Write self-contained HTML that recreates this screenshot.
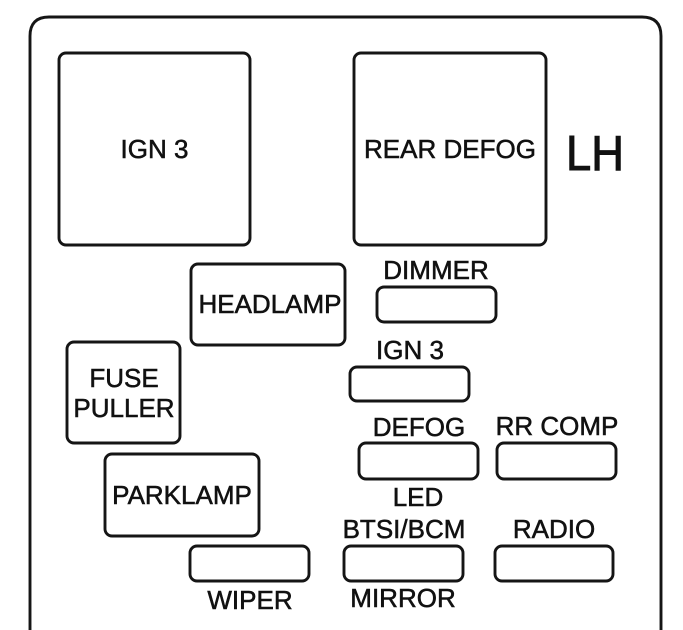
<!DOCTYPE html>
<html><head><meta charset="utf-8"><style>
html,body{margin:0;padding:0;background:#fff}
svg{display:block}
text{font-family:"Liberation Sans",Arial,sans-serif;fill:#111;stroke:#111;stroke-width:.55px}
rect{fill:#fff;stroke:#151515;stroke-width:2.9}
</style></head><body>
<svg width="683" height="630" viewBox="0 0 683 630" xmlns="http://www.w3.org/2000/svg">
<path d="M30 630V36Q30 17 49 17H642Q661 17 661 36V630" fill="#fff" stroke="#151515" stroke-width="2.9"/>
<rect x="59" y="53" width="191" height="192" rx="7"/>
<rect x="354" y="53" width="192" height="192" rx="7"/>
<rect x="191" y="264" width="154" height="81" rx="7"/>
<rect x="377" y="287" width="119" height="35" rx="7"/>
<rect x="350" y="367" width="119" height="34" rx="7"/>
<rect x="67" y="342" width="113" height="101" rx="7"/>
<rect x="359" y="443" width="119" height="36" rx="7"/>
<rect x="497" y="443" width="119" height="36" rx="7"/>
<rect x="105" y="454" width="154" height="82" rx="7"/>
<rect x="190" y="546" width="119" height="35" rx="7"/>
<rect x="344" y="546" width="119" height="35" rx="7"/>
<rect x="495" y="546" width="118" height="35" rx="7"/>
<g font-size="26" text-anchor="middle">
<text x="154.500" y="158">IGN 3</text>
<text x="450" y="158">REAR DEFOG</text>
<text x="270" y="313">HEADLAMP</text>
<text x="436" y="279">DIMMER</text>
<text x="410" y="359">IGN 3</text>
<text x="124" y="387">FUSE</text>
<text x="124" y="417">PULLER</text>
<text x="419" y="436">DEFOG</text>
<text x="557" y="435">RR COMP</text>
<text x="418" y="506">LED</text>
<text x="404" y="538">BTSI/BCM</text>
<text x="554" y="538">RADIO</text>
<text x="182" y="504">PARKLAMP</text>
<text x="250" y="609">WIPER</text>
<text x="403" y="607">MIRROR</text>
</g>
<text x="566" y="170" font-size="49" textLength="58" lengthAdjust="spacingAndGlyphs" style="stroke-width:1px">LH</text>
</svg>
</body></html>
